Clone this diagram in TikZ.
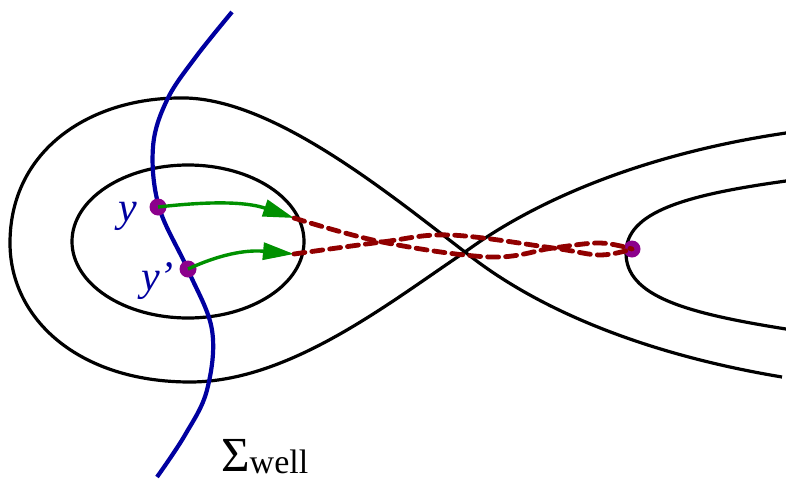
\documentclass[tikz,border=0pt]{standalone}
\usepackage{fontspec}
\setmainfont{Liberation Serif}
\usetikzlibrary{arrows.meta}
\definecolor{cblue}{RGB}{0,0,160}
\definecolor{cgreen}{RGB}{0,145,0}
\definecolor{cred}{RGB}{145,0,0}
\definecolor{cpurple}{RGB}{140,0,140}
\begin{document}
\begin{tikzpicture}[x=1pt,y=-1pt,
  level/.style={line width=3.2pt, black},
  wall/.style={line width=4.2pt, cblue},
  dot/.style={circle, fill=cpurple, inner sep=0pt, minimum size=17pt},
  garrow/.style={line width=3.4pt, cgreen, -{Triangle[length=31pt,width=17pt]}},
  rdash/.style={line width=4.8pt, cred, dash pattern=on 11pt off 7pt, line cap=round},
  lab/.style={text=cblue, inner sep=0pt, font=\fontsize{42}{42}\selectfont\itshape}]
\useasboundingbox (0,0) rectangle (786,482);
% level curves
\draw[level] (786,133) .. controls (650,153) and (540,197) .. (465,252)
  .. controls (390,302) and (290,382) .. (190,382)
  .. controls (80,382) and (10,320) .. (10,243)
  .. controls (10,150) and (90,98) .. (180,98)
  .. controls (270,96) and (388,193) .. (465,252)
  .. controls (540,312) and (650,355) .. (782,377);
\draw[level] (188,241.5) ellipse [x radius=116, y radius=76.5];
\draw[level] (786,181) .. controls (685,195) and (626,212) .. (626,253)
  .. controls (626,296) and (685,313) .. (786,329);
% wall
\draw[wall] plot[smooth, tension=0.6] coordinates {(232,12) (195,58) (167,100) (153,147) (159,207) (188,270) (212,330) (207,390) (185,435) (157,477)};
% points
\node[dot] (p1) at (158,207) {};
\node[dot] (p2) at (188,269) {};
\node[dot] (p3) at (632,249) {};
% arrows
\coordinate (t1) at (294,218);
\coordinate (t2) at (294,254);
\draw[garrow] (p1.center) .. controls (220,200) and (250,203) .. (t1);
\draw[garrow] (p2.center) .. controls (225,252) and (250,250) .. (t2);
% dashed paths
\draw[rdash] plot[smooth, tension=0.6] coordinates {(t1) (382,242) (490,257) (553,248) (600,243) (p3.center)};
\draw[rdash] plot[smooth, tension=0.6] coordinates {(t2) (382,242) (450,235) (553,248) (600,255) (p3.center)};
% labels
\node[lab, anchor=base] (ly) at (128,221) {y};
\node[lab, anchor=base west] (lyp) at (141,290) {y’};
\node[inner sep=0pt, anchor=base west] (sig) at (221,471) {\fontsize{49}{49}\selectfont Σ\raisebox{-2pt}{\fontsize{34}{34}\selectfont well}};
\end{tikzpicture}
\end{document}
